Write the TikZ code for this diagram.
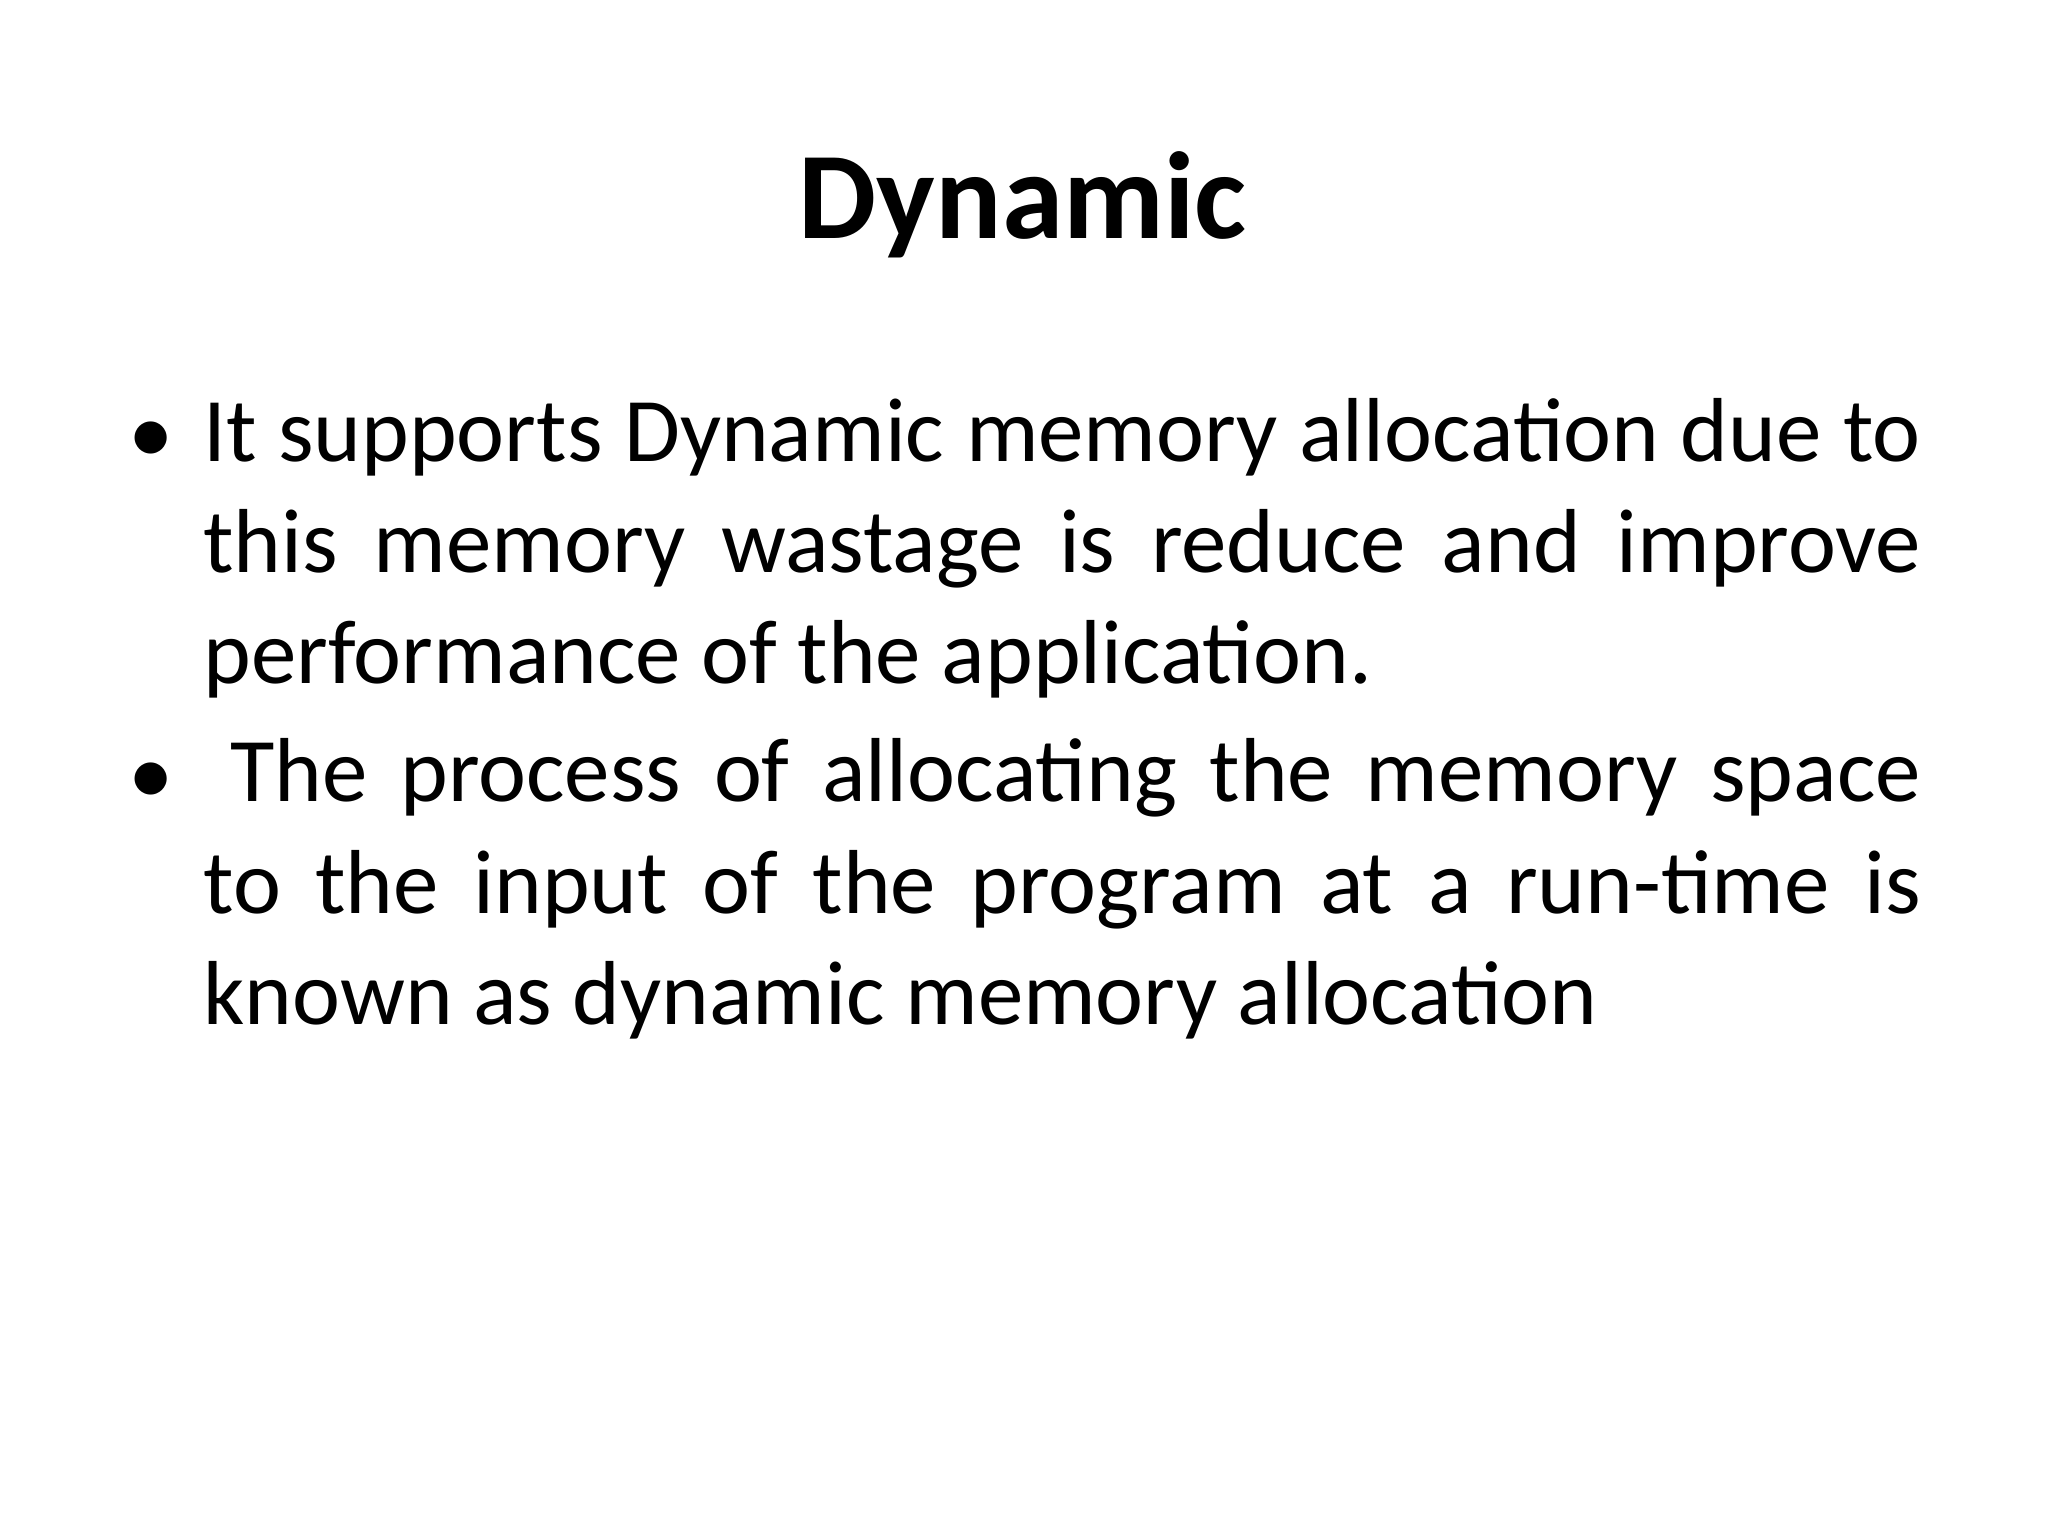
\documentclass[tikz,border=0pt]{standalone}
\usepackage{fontspec}
\setmainfont{Carlito}
\usetikzlibrary{positioning}
\newcommand{\nohyph}{\hyphenpenalty=10000\exhyphenpenalty=10000\relax}
\tikzset{
  title/.style={font=\fontsize{27}{33}\selectfont\bfseries, inner sep=0pt},
  para/.style={font=\fontsize{19.8}{24.2}\selectfont, text width=13.15cm, align=justify, inner sep=0pt},
  dot/.style={font=\fontsize{19.8}{24.2}\selectfont, inner sep=0pt}
}
\begin{document}
\begin{tikzpicture}
    \useasboundingbox[fill=white] (0,0) rectangle (15.68,11.76);
    % Title
    \node [title, anchor=base] (head) at (7.83,9.93) {Dynamic};
    % Bullets
    \node [dot, anchor=base west] (dotA) at (0.98,8.21) {•};
    \node [para, anchor=north west] (textA) at (1.55,8.72) {\nohyph It supports Dynamic memory allocation due to\linebreak this memory wastage is reduce and improve\linebreak performance of the application.};
    \node [dot, anchor=base west] (dotB) at (0.98,5.60) {•};
    \node [para, anchor=north west] (textB) at (1.55,6.11) {\nohyph\hspace*{0.3em}The process of allocating the memory space\linebreak to the input of the program at a run-time is\linebreak known as dynamic memory allocation};
\end{tikzpicture}
\end{document}
